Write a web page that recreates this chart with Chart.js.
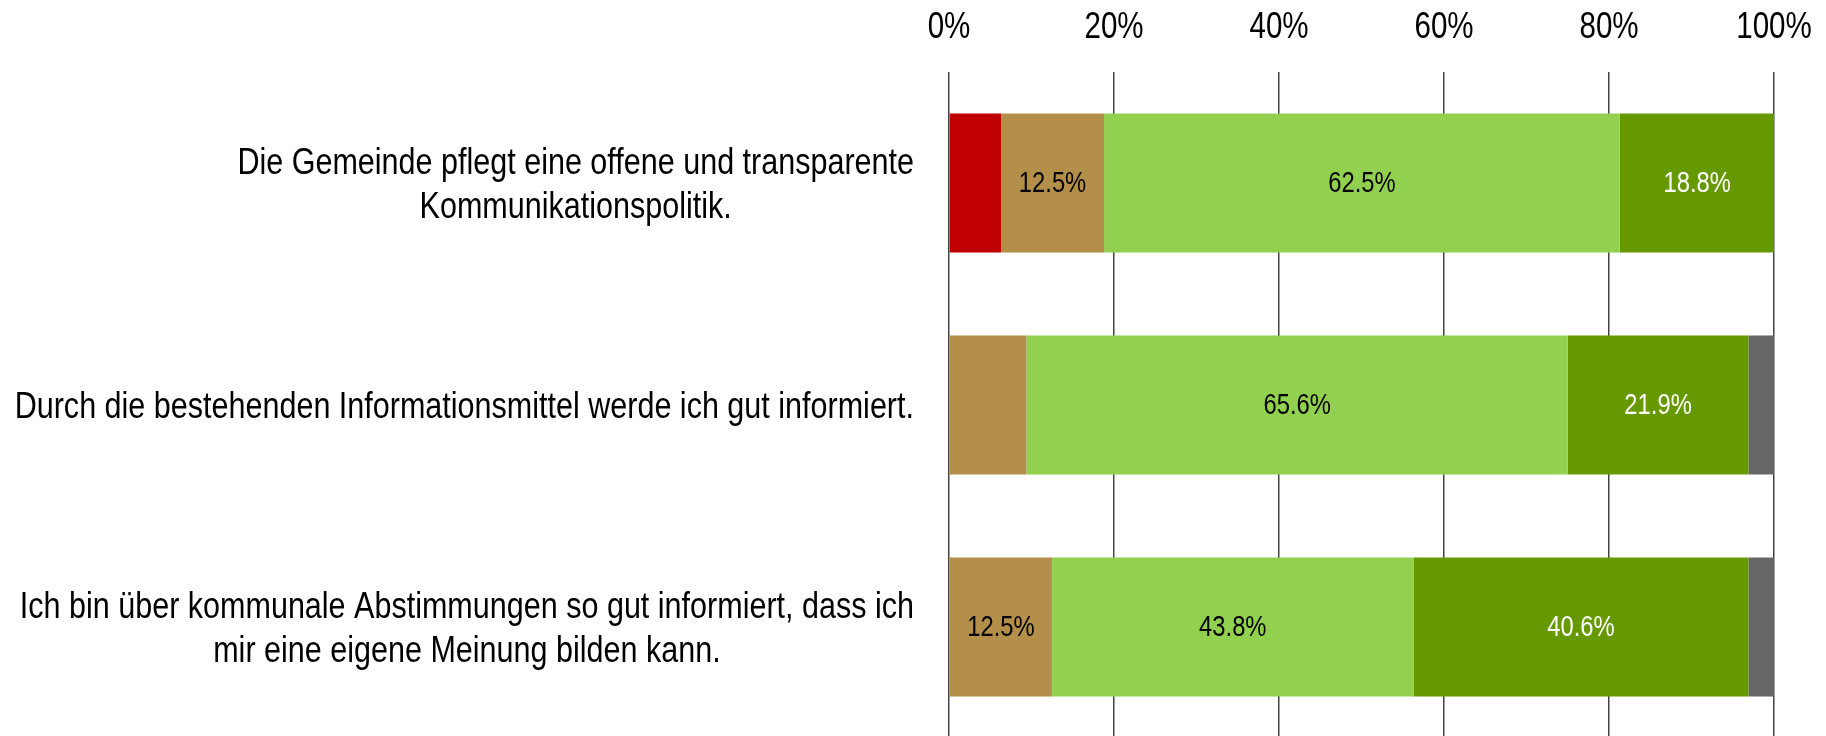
<!DOCTYPE html>
<html>
<head>
<meta charset="utf-8">
<script src="https://cdn.jsdelivr.net/npm/chart.js@4"></script>
<style>
  html, body { margin: 0; padding: 0; background: #fff; overflow: hidden; }
  #wrap { width: 1826px; height: 742px; }
</style>
</head>
<body>
<div id="wrap"><canvas id="surveyChart"></canvas></div>
<script>
const FONT = "'Liberation Sans', Arial, sans-serif";
const NARROW = 0.82; // squeeze Arial-metric text to look like Arial Narrow

// statements (y categories), each entry is an array of lines
const statements = [
  ['Die Gemeinde pflegt eine offene und transparente', 'Kommunikationspolitik.'],
  ['Durch die bestehenden Informationsmittel werde ich gut informiert.'],
  ['Ich bin über kommunale Abstimmungen so gut informiert, dass ich', 'mir eine eigene Meinung bilden kann.']
];

// answer shares in percent, one array per answer category
const trifftNichtZu      = [6.3, 0, 0];
const trifftEherNichtZu  = [12.5, 9.4, 12.5];
const trifftEherZu       = [62.5, 65.6, 43.8];
const trifftZu           = [18.8, 21.9, 40.6];
const weissNicht         = [0, 3.1, 3.1];

const xTicks = [0, 20, 40, 60, 80, 100];

const series = [
  { label: 'trifft nicht zu', data: trifftNichtZu, color: '#C00000', text: '#ffffff' },
  { label: 'trifft eher nicht zu', data: trifftEherNichtZu, color: '#B38F4A', text: '#000000' },
  { label: 'trifft eher zu', data: trifftEherZu, color: '#92D050', text: '#000000' },
  { label: 'trifft zu', data: trifftZu, color: '#669900', text: '#ffffff' },
  { label: 'weiss nicht', data: weissNicht, color: '#666666', text: '#ffffff' }
];

function narrowText(ctx, text, x, y, sx = NARROW) {
  ctx.save();
  ctx.translate(x, y);
  ctx.scale(sx, 1);
  ctx.fillText(text, 0, 0);
  ctx.restore();
}

// value labels inside the segments (small ones are left out, like the original)
const segmentLabels = {
  id: 'segmentLabels',
  afterDatasetsDraw(chart) {
    const ctx = chart.ctx;
    ctx.save();
    ctx.font = '29px ' + FONT;
    ctx.textAlign = 'center';
    ctx.textBaseline = 'middle';
    chart.data.datasets.forEach((ds, i) => {
      const meta = chart.getDatasetMeta(i);
      meta.data.forEach((bar, j) => {
        const v = ds.data[j];
        if (v < 10) return;
        const p = bar.getProps(['x', 'y', 'base'], true);
        ctx.fillStyle = series[i].text;
        narrowText(ctx, v.toFixed(1) + '%', (p.x + p.base) / 2, p.y + 1);
      });
    });
    ctx.restore();
  }
};

// percent ticks above the plot and statement texts left of it
const axisText = {
  id: 'axisText',
  afterDraw(chart) {
    const ctx = chart.ctx;
    const xScale = chart.scales.x;
    const yScale = chart.scales.y;
    ctx.save();
    ctx.fillStyle = '#000';
    ctx.textAlign = 'center';
    ctx.textBaseline = 'middle';

    ctx.font = '36px ' + FONT;
    xTicks.forEach(v => {
      narrowText(ctx, v + '%', xScale.getPixelForValue(v), 28.5);
    });

    const sx = 0.848;
    const right = chart.chartArea.left - 35;
    const lh = 44.5;
    statements.forEach((lines, i) => {
      const w = Math.max(...lines.map(l => ctx.measureText(l).width)) * sx;
      const cx = right - w / 2;
      const cy = yScale.getPixelForValue(i) + 3;
      lines.forEach((l, k) => {
        narrowText(ctx, l, cx, cy + (k - (lines.length - 1) / 2) * lh, sx);
      });
    });
    ctx.restore();
  }
};

new Chart(document.getElementById('surveyChart'), {
  type: 'bar',
  data: {
    labels: statements.map(s => s.join(' ')),
    datasets: series.map(s => ({
      label: s.label,
      data: s.data,
      backgroundColor: s.color,
      borderWidth: 0,
      categoryPercentage: 1,
      barPercentage: 0.626
    }))
  },
  options: {
    indexAxis: 'y',
    responsive: true,
    maintainAspectRatio: false,
    animation: false,
    layout: { padding: { left: 949, right: 52, top: 72, bottom: 4 } },
    plugins: {
      legend: { display: false },
      tooltip: { enabled: false }
    },
    scales: {
      x: {
        position: 'top',
        stacked: true,
        min: 0,
        max: 100,
        afterBuildTicks(scale) {
          scale.ticks = xTicks.map(v => ({ value: v }));
        },
        border: { display: false },
        grid: { color: '#444444', lineWidth: 1.5, drawTicks: false },
        ticks: { display: false }
      },
      y: {
        stacked: true,
        display: false
      }
    }
  },
  plugins: [segmentLabels, axisText]
});
</script>
</body>
</html>
